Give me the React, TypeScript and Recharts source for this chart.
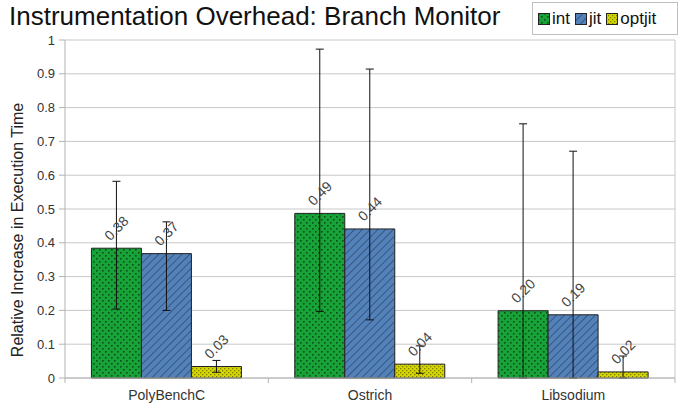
import { BarChart, Bar, XAxis, YAxis, CartesianGrid, ErrorBar, LabelList } from "recharts";

const categories = ["PolyBenchC", "Ostrich", "Libsodium"];
const intValues = [0.384, 0.487, 0.199];
const jitValues = [0.368, 0.441, 0.187];
const optjitValues = [0.034, 0.041, 0.018];
// error bars as [below, above]
const intErrors = [[0.18, 0.198], [0.29, 0.486], [0.199, 0.553]];
const jitErrors = [[0.168, 0.094], [0.269, 0.473], [0.187, 0.484]];
const optjitErrors = [[0.017, 0.018], [0.027, 0.054], [0.018, 0.047]];
const yTicks = [0, 0.1, 0.2, 0.3, 0.4, 0.5, 0.6, 0.7, 0.8, 0.9, 1];

const data = categories.map((name, i) => ({
  name,
  int: intValues[i],
  jit: jitValues[i],
  optjit: optjitValues[i],
  intErr: intErrors[i],
  jitErr: jitErrors[i],
  optjitErr: optjitErrors[i],
}));

const FONT = '"Liberation Sans", Arial, sans-serif';
const NARROW = '"Liberation Sans Narrow", "Liberation Sans", Arial, sans-serif';

function BarValueLabel(props: any) {
  const { x, y, width, value } = props;
  const cx = x + width / 2;
  const cy = y - 20;
  return (
    <text
      x={cx}
      y={cy}
      transform={`rotate(-45 ${cx} ${cy})`}
      textAnchor="middle"
      dominantBaseline="central"
      fontSize={14}
      fontFamily={FONT}
      fill="#444"
    >
      {Number(value).toFixed(2)}
    </text>
  );
}

function CategoryTick(props: any) {
  const { x, y, payload, index, visibleTicksCount } = props;
  const off = payload.offset ?? 100;
  const axisY = y - 15;
  return (
    <g>
      <line x1={x - off} y1={axisY} x2={x - off} y2={axisY + 5} stroke="#b3b3b3" />
      {index === visibleTicksCount - 1 && (
        <line x1={x + off} y1={axisY} x2={x + off} y2={axisY + 5} stroke="#b3b3b3" />
      )}
      <text x={x} y={y + 7} textAnchor="middle" fontSize={14} fontFamily={FONT} fill="#333">
        {payload.value}
      </text>
    </g>
  );
}

function Swatch({ pat }: { pat: string }) {
  return (
    <svg width={12} height={12} style={{ display: "block" }}>
      <rect x={0.5} y={0.5} width={11} height={11} fill={`url(#${pat})`} stroke="#222" />
    </svg>
  );
}

export default function App() {
  return (
    <div
      style={{
        position: "fixed",
        left: 0,
        top: 0,
        width: 685,
        height: 409,
        background: "#fff",
        fontFamily: FONT,
      }}
    >
      <svg width={0} height={0} style={{ position: "absolute" }}>
        <defs>
          <pattern id="pat-int" width="6" height="6" patternUnits="userSpaceOnUse">
            <rect width="6" height="6" fill="#18a338" />
            <rect x="0" y="0" width="1.6" height="1.6" fill="#0a4f19" />
            <rect x="3" y="3" width="1.6" height="1.6" fill="#0a4f19" />
          </pattern>
          <pattern id="pat-jit" width="5.5" height="5.5" patternUnits="userSpaceOnUse" patternTransform="rotate(45)">
            <rect width="5.5" height="5.5" fill="#5381ba" />
            <line x1="0" y1="0" x2="0" y2="5.5" stroke="#2b4566" strokeWidth="1.4" />
          </pattern>
          <pattern id="pat-optjit" width="4" height="4" patternUnits="userSpaceOnUse">
            <rect width="4" height="4" fill="#d6d600" />
            <rect x="0" y="0" width="1.3" height="1.3" fill="#7d7d00" />
            <rect x="2" y="2" width="1.3" height="1.3" fill="#7d7d00" />
          </pattern>
        </defs>
      </svg>

      <div
        style={{
          position: "absolute",
          left: 9,
          top: 1,
          fontSize: 26,
          fontFamily: NARROW,
          color: "#111",
          whiteSpace: "nowrap",
        }}
      >
        Instrumentation Overhead: Branch Monitor
      </div>

      <div
        style={{
          position: "absolute",
          left: 532,
          top: 2,
          width: 146,
          height: 33,
          border: "1px solid #c0c0c0",
          display: "flex",
          alignItems: "center",
          gap: 5,
          paddingLeft: 5,
          boxSizing: "border-box",
          fontSize: 17,
          fontFamily: NARROW,
          color: "#111",
        }}
      >
        <span style={{ display: "flex", alignItems: "center", gap: 2 }}>
          <Swatch pat="pat-int" />
          int
        </span>
        <span style={{ display: "flex", alignItems: "center", gap: 2 }}>
          <Swatch pat="pat-jit" />
          jit
        </span>
        <span style={{ display: "flex", alignItems: "center", gap: 2 }}>
          <Swatch pat="pat-optjit" />
          optjit
        </span>
      </div>

      <div
        style={{
          position: "absolute",
          left: 18 - 150,
          top: 230 - 10,
          width: 300,
          height: 20,
          lineHeight: "20px",
          textAlign: "center",
          transform: "rotate(-90deg)",
          fontSize: 16,
          color: "#222",
          whiteSpace: "nowrap",
        }}
      >
        Relative Increase in Execution Time
      </div>

      <div style={{ position: "absolute", left: 0, top: 0 }}>
        <BarChart
          width={685}
          height={409}
          data={data}
          margin={{ top: 40, right: 10, bottom: 0, left: 0 }}
          barCategoryGap="13%"
          barGap={0}
        >
          <CartesianGrid
            stroke="#c8c8c8"
            verticalCoordinatesGenerator={({ offset }: any) => [offset.left + offset.width]}
          />
          <XAxis
            dataKey="name"
            height={31}
            axisLine={{ stroke: "#b3b3b3" }}
            tickLine={{ stroke: "none" }}
            tickSize={5}
            tickMargin={10}
            tick={<CategoryTick />}
            interval={0}
          />
          <YAxis
            width={65}
            domain={[0, 1]}
            ticks={yTicks}
            interval={0}
            axisLine={{ stroke: "#b3b3b3" }}
            tickLine={{ stroke: "#b3b3b3" }}
            tickSize={6}
            tickMargin={4}
            tick={{ fontSize: 13, fill: "#333", fontFamily: FONT }}
          />
          <Bar dataKey="int" fill="url(#pat-int)" stroke="#222" strokeWidth={1} isAnimationActive={false}>
            <ErrorBar dataKey="intErr" width={4} stroke="#111" strokeWidth={1} />
            <LabelList dataKey="int" content={<BarValueLabel />} />
          </Bar>
          <Bar dataKey="jit" fill="url(#pat-jit)" stroke="#222" strokeWidth={1} isAnimationActive={false}>
            <ErrorBar dataKey="jitErr" width={4} stroke="#111" strokeWidth={1} />
            <LabelList dataKey="jit" content={<BarValueLabel />} />
          </Bar>
          <Bar dataKey="optjit" fill="url(#pat-optjit)" stroke="#222" strokeWidth={1} isAnimationActive={false}>
            <ErrorBar dataKey="optjitErr" width={4} stroke="#111" strokeWidth={1} />
            <LabelList dataKey="optjit" content={<BarValueLabel />} />
          </Bar>
        </BarChart>
      </div>
    </div>
  );
}
